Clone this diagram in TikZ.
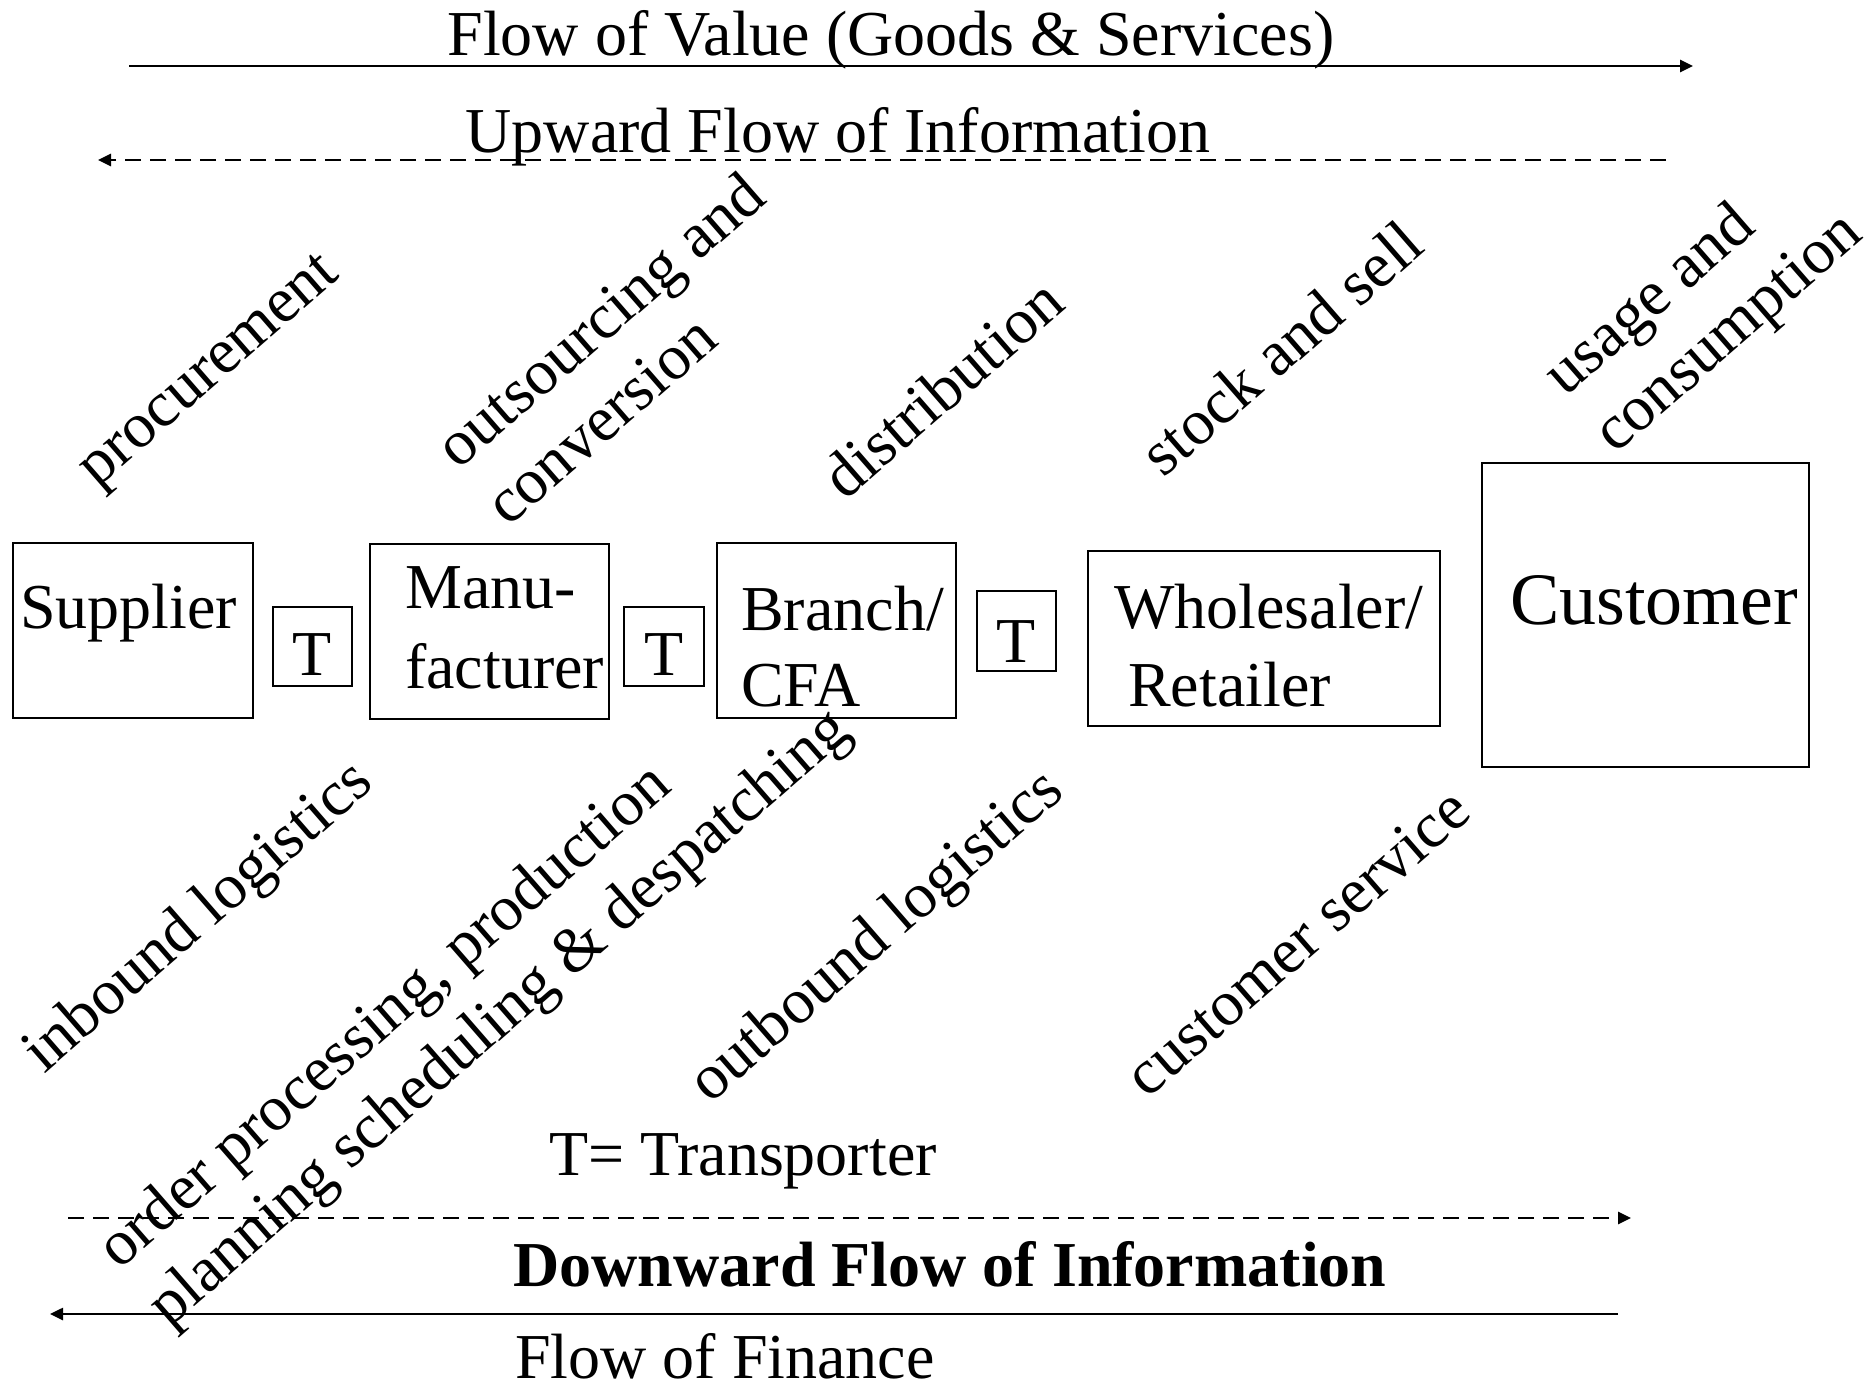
\documentclass[tikz,border=0pt]{standalone}
\usepackage{fontspec}
\setmainfont{Liberation Serif}
\usetikzlibrary{arrows.meta}
\begin{document}
\begin{tikzpicture}[x=1pt,y=-1pt,
  box/.style={draw,line width=2.2pt,inner sep=0pt,outer sep=0pt},
  txt/.style={inner sep=0pt,font=\fontsize{64}{76}\selectfont},
  rot/.style={inner sep=0pt,font=\fontsize{64}{76}\selectfont,rotate=41,align=left,anchor=center},
  flow/.style={line width=2.6pt,-{Triangle[length=13pt,width=12pt]}},
  dflow/.style={flow,dash pattern=on 16pt off 9pt}]
\useasboundingbox (0,0) rectangle (1870,1391);
% arrow end coordinates
\coordinate (v1) at (129,66);   \coordinate (v2) at (1693,66);
\coordinate (u1) at (1666,160); \coordinate (u2) at (98,160);
\coordinate (d1) at (68,1218);  \coordinate (d2) at (1631,1218);
\coordinate (f1) at (1618,1314);\coordinate (f2) at (50,1314);
\draw[flow] (v1) -- (v2);
\draw[dflow] (u1) -- (u2);
\draw[dflow] (d1) -- (d2);
\draw[flow] (f1) -- (f2);
\node[txt,anchor=base] (tv) at (891,56) {Flow of Value (Goods \& Services)};
\node[txt,anchor=base] (tu) at (838,153) {Upward Flow of Information};
\node[txt,anchor=base,font=\fontsize{64}{76}\selectfont\bfseries] (td) at (950,1286) {Downward Flow of Information};
\node[txt,anchor=base west] (tf) at (515,1378) {Flow of Finance};
\node[txt,anchor=base west] (tt) at (549,1175) {T= Transporter};
% boxes
\node[box,minimum width=240pt,minimum height=175pt] (sup) at (133,630.5) {};
\node[box,minimum width=79pt,minimum height=79pt] (t1) at (312.5,646.5) {};
\node[box,minimum width=239pt,minimum height=175pt] (man) at (489.5,631.5) {};
\node[box,minimum width=80pt,minimum height=79pt] (t2) at (664,646.5) {};
\node[box,minimum width=239pt,minimum height=175pt] (bra) at (836.5,630.5) {};
\node[box,minimum width=79pt,minimum height=80pt] (t3) at (1016.5,631) {};
\node[box,minimum width=352pt,minimum height=175pt] (who) at (1264,638.5) {};
\node[box,minimum width=327pt,minimum height=304pt] (cus) at (1645.5,615) {};
% box texts
\node[txt,anchor=base west] (sup-t) at (20,628) {Supplier};
\node[txt,anchor=base] (t1-t) at (312.5,675) {T};
\node[txt,anchor=base] (t2-t) at (664,675) {T};
\node[txt,anchor=base] (t3-t) at (1016.5,662) {T};
\node[txt,anchor=base west] (man-a) at (405,608) {Manu-};
\node[txt,anchor=base west] (man-b) at (405,688) {facturer};
\node[txt,anchor=base west] (bra-a) at (741,630) {Branch/};
\node[txt,anchor=base west] (bra-b) at (741,706) {CFA};
\node[txt,anchor=base west] (who-a) at (1114,628) {Wholesaler/};
\node[txt,anchor=base west] (who-b) at (1128,706) {Retailer};
\node[txt,anchor=base west,font=\fontsize{74}{88}\selectfont] (cus-t) at (1510,624) {Customer};
% rotated labels
\node[rot] (r1) at (212,374) {procurement};
\node[rot] (r2) at (624,348) {outsourcing and\\conversion};
\node[rot] (r3) at (942,388) {distribution};
\node[rot] (r4) at (1281,348) {stock and sell};
\node[rot] (r5) at (1705,306) {usage and\\consumption};
\node[rot] (r6) at (200,919) {inbound logistics};
\node[rot] (r7) at (476,991) {order processing, production\\planning scheduling \& despatching};
\node[rot] (r8) at (878,938) {outbound logistics};
\node[rot] (r9) at (1297,942) {customer service};
\end{tikzpicture}
\end{document}
